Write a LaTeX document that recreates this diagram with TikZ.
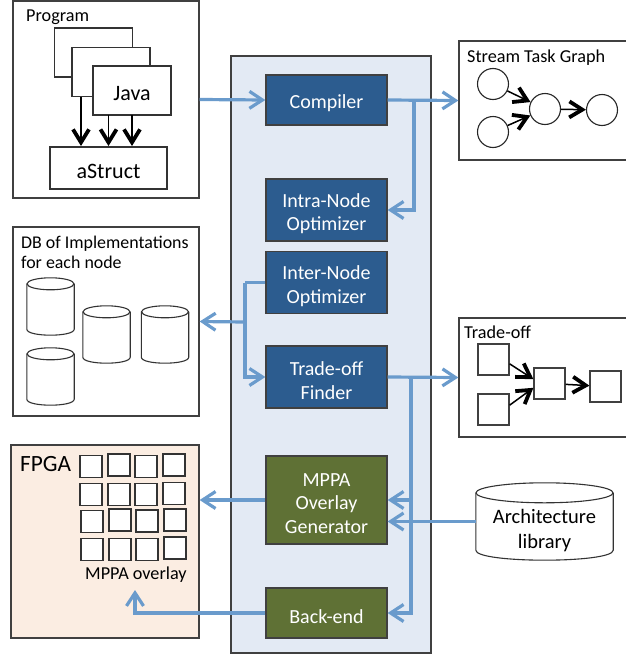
\documentclass[tikz,border=0pt]{standalone}
\usepackage{fontspec}
\setmainfont{Carlito}
\usetikzlibrary{arrows.meta,calc}

\definecolor{panelfill}{HTML}{E3EAF4}
\definecolor{blockblue}{HTML}{2C5C8F}
\definecolor{blockgreen}{HTML}{5F7135}
\definecolor{flowblue}{HTML}{6A9BCC}
\definecolor{fpgafill}{HTML}{FBEDE2}
\definecolor{edgegray}{HTML}{404040}

% name, centre x, centre y, width, height, cap radius
\newcommand{\drumnode}[6]{%
  \node[drumbase,minimum width=#4pt,minimum height=#5pt] (#1) at (#2,#3) {};
  \draw[drumline,fill=white] ([yshift=-#6pt]#1.north west) -- ([yshift=#6pt]#1.south west)
    .. controls +(0,1.33*#6) and +(0,1.33*#6) .. ([yshift=#6pt]#1.south east)
    -- ([yshift=-#6pt]#1.north east);
  \draw[drumline,fill=white] ($(#1.north)+(0,#6)$) ellipse [x radius=#4/2,y radius=#6];
}

\begin{document}
\begin{tikzpicture}[x=1pt,y=-1pt]
    % `panel' is the big background box, `stage' the tool blocks on it.
    % `group' is used for the outer boxes, `flow' for the blue connectors.
    % `lowered' pushes the text a little below the middle of its box.
    \tikzstyle{lowered} = [execute at begin node=\rule{0pt}{21pt}]
    \tikzstyle{panel} = [draw=edgegray,fill=panelfill,line width=1.5pt,inner sep=0pt,minimum width=200pt,minimum height=597pt]
    \tikzstyle{stage} = [draw=black!75,line width=1.3pt,inner sep=0pt,minimum width=121pt]
    \tikzstyle{stagetext} = [text=white,inner sep=0pt,align=center,yshift=-3.5pt,font=\fontsize{20}{23.5}\selectfont]
    \tikzstyle{bluestage} = [stage,fill=blockblue]
    \tikzstyle{greenstage} = [stage,fill=blockgreen]
    \tikzstyle{group} = [draw=edgegray,fill=white,line width=1.3pt,inner sep=0pt]
    \tikzstyle{title} = [anchor=west,inner sep=0pt,align=left,font=\fontsize{18.2}{20}\selectfont]
    \tikzstyle{sheet} = [draw=black!80,fill=white,line width=1.2pt,inner sep=0pt,minimum width=78pt,minimum height=49pt]
    \tikzstyle{drumbase} = [inner sep=0pt]
    \tikzstyle{drumline} = [draw=black!80,line width=1.1pt]
    \tikzstyle{task} = [draw=black!85,fill=white,circle,line width=1.1pt,inner sep=0pt,minimum size=31pt]
    \tikzstyle{tile} = [draw=edgegray,fill=white,line width=1.2pt,inner sep=0pt,minimum size=31pt]
    \tikzstyle{cell} = [draw=black!80,fill=white,line width=1.2pt,inner sep=0pt,minimum size=22pt]
    \tikzstyle{flow} = [draw=flowblue,line width=3.2pt,-{Straight Barb[length=13pt,width=17pt,line width=3.2pt]}]
    \tikzstyle{plainflow} = [draw=flowblue,line width=3.2pt]
    \tikzstyle{dep} = [draw=black,line width=1.5pt,-{Straight Barb[length=13pt,width=16pt,line width=3.8pt]}]
    \useasboundingbox (0,0) rectangle (626,656);

    % Middle panel and its blocks.
    \node[panel] (toolflow) at (331,354.5) {};
    \node[bluestage,minimum height=50pt,label={[stagetext]center:Compiler}] (compiler) at (326.5,100) {};
    \node[bluestage,minimum height=62pt,label={[stagetext]center:{Intra-Node\\Optimizer}}] (intra) at (326.5,210) {};
    \node[bluestage,minimum height=62pt,label={[stagetext]center:{Inter-Node\\Optimizer}}] (inter) at (326.5,282.5) {};
    \node[bluestage,minimum height=62pt,label={[stagetext]center:{Trade-off\\Finder}}] (finder) at (326.5,377) {};
    \node[greenstage,minimum height=88pt,label={[stagetext]center:{MPPA\\Overlay\\Generator}}] (overlaygen) at (326.5,500) {};
    \node[greenstage,minimum height=50pt,label={[stagetext]center:Back-end}] (backend) at (326.5,613) {};

    % Program box.
    \node[group,minimum width=186pt,minimum height=197pt] (program) at (106,99.5) {};
    \node[title] (programlabel) at (26,17) {Program};
    \node[sheet] (page0) at (93.5,52.5) {};
    \node[sheet] (page1) at (111,72) {};
    \node[sheet,lowered,font=\fontsize{22}{23}\selectfont] (page2) at (132,90.5) {Java};
    \node[group,draw=black!80,lowered,minimum width=117pt,minimum height=42pt,font=\fontsize{22}{23}\selectfont] (astruct) at (108.5,168) {aStruct};
    \draw[dep] (81,97) -- (81,146);
    \draw[dep] (108.5,115) -- (108.5,146);
    \draw[dep] (132,115) -- (132,146);

    % Implementations box.
    \node[group,minimum width=186pt,minimum height=189pt] (dbbox) at (106,321.5) {};
    \node[title,font=\fontsize{17.9}{20}\selectfont] (dblabel) at (21,252.5) {DB of Implementations\\for each node};
    \drumnode{db0}{50.5}{306.5}{47}{57}{6}
    \drumnode{db1}{106.5}{334.5}{47}{57}{6}
    \drumnode{db2}{165}{334.5}{47}{57}{6}
    \drumnode{db3}{50.5}{376.5}{47}{57}{6}

    % FPGA box with the overlay cells.
    \node[group,fill=fpgafill,minimum width=188pt,minimum height=193pt] (fpga) at (105,541.5) {};
    \node[anchor=west,inner sep=0pt,font=\fontsize{23.3}{25}\selectfont] (fpgalabel) at (20,464) {FPGA};
    \foreach \cname/\xc/\yc in {a0/91/466.5,a1/119/465,a2/146/466.5,a3/174/465,
                                b0/91/494.5,b1/119/494.5,b2/146/494.5,b3/174/493.5,
                                c0/92/521.5,c1/120/520,c2/147/521,c3/175/520,
                                d0/92/549.5,d1/120/549.5,d2/147/549.5,d3/175/548}
      \node[cell] (cell\cname) at (\xc,\yc) {};
    \node[anchor=west,inner sep=0pt,font=\fontsize{18.2}{20}\selectfont] (overlaylabel) at (85,574.5) {MPPA overlay};
    \coordinate (overlayin) at (135,590);

    % Stream Task Graph box.
    \node[group,minimum width=169pt,minimum height=119pt] (stream) at (543.5,100.5) {};
    \node[title] (streamlabel) at (467,58) {Stream Task Graph};
    \node[task] (t0) at (493,84) {};
    \node[task] (t1) at (493,132) {};
    \node[task] (t2) at (545,109) {};
    \node[task] (t3) at (602,110) {};
    \draw[dep] (t0) -- (t2);
    \draw[dep] (t1) -- (t2);
    \draw[dep] (t2) -- (t3);

    % Trade-off box.
    \node[group,minimum width=169pt,minimum height=119pt] (tradeoff) at (543.5,377.5) {};
    \node[title] (tradeofflabel) at (464,332) {Trade-off};
    \node[tile] (s0) at (493.5,359.5) {};
    \node[tile] (s1) at (493.5,409.5) {};
    \node[tile] (s2) at (549.5,383.5) {};
    \node[tile] (s3) at (605.5,386.5) {};
    \draw[dep] (s0.-15) -- (s2.165);
    \draw[dep] (s1.15) -- (s2.-165);
    \draw[dep] (s2) -- (s3);

    % Architecture library.
    \drumnode{archlib}{544.5}{521.5}{137}{77}{10}
    \node[align=center,inner sep=0pt,font=\fontsize{20.5}{25}\selectfont] (archlabel) at (544.5,531) {Architecture\\library};

    % Draw lines.
    \draw[flow] (program.east) -- (compiler.west);
    \draw[flow] (compiler.east) -- (stream.west);
    \coordinate (split0) at (414,100);
    \draw[flow] (split0) |- (intra.east);
    \coordinate (bus0) at (245,282.5);
    \coordinate (bus0db) at (245,322);
    \draw[plainflow] (inter.west) -- (bus0);
    \draw[flow] (bus0) |- (finder.west);
    \draw[flow] (bus0db) -- (dbbox.east);
    \draw[flow] (finder.east) -- (tradeoff.west);
    \coordinate (split1) at (411,377);
    \coordinate (split1gen) at (411,500);
    \draw[flow] (split1) |- (backend.east);
    \draw[flow] (split1gen) -- (overlaygen.east);
    \draw[flow] (archlib.west) -- (overlaygen.east |- archlib.west);
    \draw[flow] (overlaygen.west) -- (fpga.east |- overlaygen.west);
    \draw[flow] (backend.west) -| (overlayin);
\end{tikzpicture}
\end{document}
